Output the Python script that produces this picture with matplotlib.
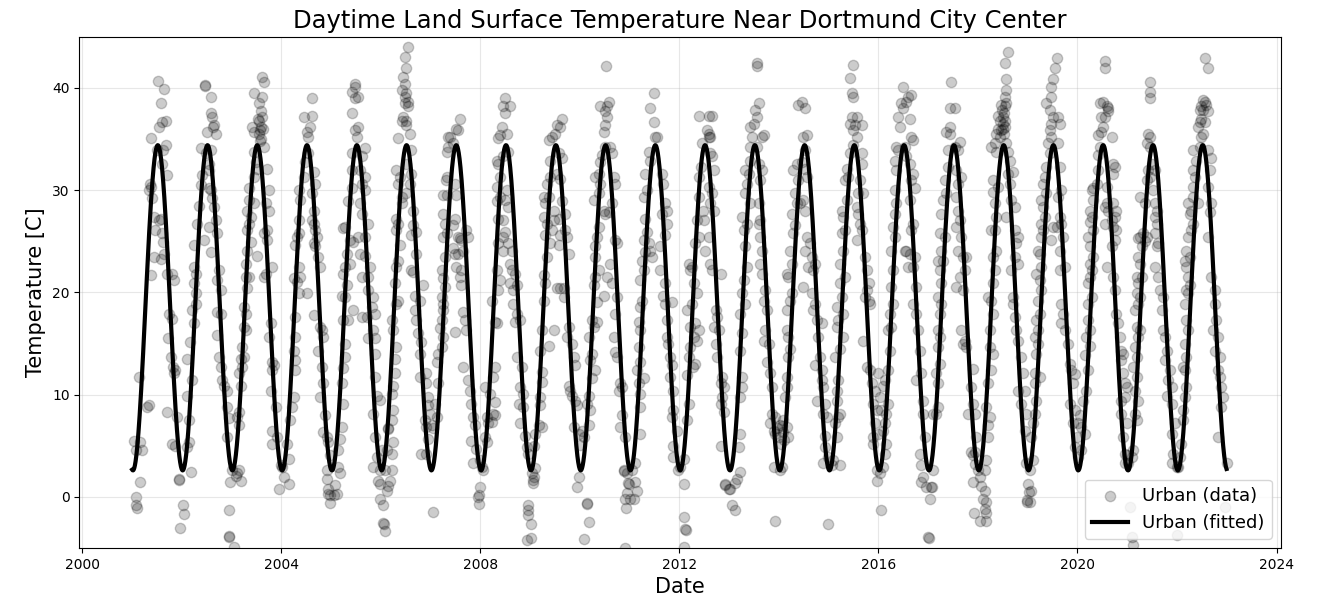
import numpy as np
import pandas as pd
import matplotlib
matplotlib.use("Agg")
import matplotlib.pyplot as plt
import matplotlib.dates as mdates

obs_2001 = [(12,5.5),(25,4.6),(73,4.6),(61,5.4),(25,0.0),(25,-0.8),(32,-1.1),(61,1.5),(49,11.7),(110,8.8),(122,9.0),
            (135,35.1),(130,30.6),(122,30.0),(140,30.3),(147,29.2),(159,27.4),(164,26.1),(159,23.5),(140,21.7),(189,40.7),
            (233,39.9),(213,38.5),(196,36.2),(220,36.7),(245,36.8),(179,33.9),(228,33.9),(245,34.4),(220,32.6),(252,31.5),
            (208,27.2),(196,27.1),(220,25.8),(228,24.9),(208,23.3),(233,23.8),(257,21.8),(294,21.8),(306,21.2),(269,17.9),
            (294,17.4),(262,15.5),(282,13.7),(318,12.4),(306,12.1),(301,12.7),(257,8.3),(294,5.2),(331,7.8),(318,5.0),
            (345,1.7),(347,1.8),(350,-3.0)]
obs_2002 = [(10,-0.8),(12,-1.7),(64,2.4),(34,13.5),(34,9.9),(51,7.5),(51,5.4),(39,4.9),(76,11.4),(61,15.2),(88,17.0),
            (100,18.9),(76,18.3),(100,19.9),(88,20.9),(100,21.8),(88,22.5),(88,24.6),(113,26.7),(125,28.5),(137,30.5),
            (150,31.5),(162,25.1),(199,26.4),(211,24.0),(137,34.1),(211,33.9),(199,32.6),(167,40.3),(169,40.2),(216,39.1),
            (216,37.5),(223,37.2),(235,36.4),(230,36.2),(186,35.7),(247,35.5),(174,33.6),(199,32.0),(211,30.0),(223,29.2),
            (199,30.2),(235,28.4),(247,27.1),(260,25.8),(272,22.2),(260,21.2),(284,20.2),(284,17.9),(260,18.1),(260,15.8),
            (272,13.7),(284,12.7),(296,11.4),(309,10.9),(333,10.4),(333,8.8),(345,7.7),(333,5.9),(355,1.5),(343,-1.3),
            (343,-3.8),(345,-3.9)]
obs_2003 = [(5,2.6),(17,-4.9),(42,2.3),(56,2.6),(66,1.6),(29,2.1),(54,7.0),(42,7.8),(54,8.3),(66,10.9),(54,12.1),
            (66,13.5),(78,12.7),(78,14.7),(91,13.7),(103,16.3),(91,16.6),(103,17.9),(91,18.6),(115,20.4),(103,21.5),
            (127,21.5),(103,22.8),(115,24.1),(140,24.9),(115,26.1),(127,26.7),(140,27.4),(115,28.0),(127,29.0),(164,28.7),
            (127,30.2),(164,31.3),(189,32.1),(164,33.7),(176,32.8),(164,35.7),(152,36.2),(201,35.5),(213,36.2),(225,37.2),
            (213,37.7),(201,38.5),(164,39.5),(225,41.1),(238,40.6),(225,39.1),(238,34.2),(262,32.1),(274,30.0),(250,28.7),
            (274,28.0),(262,26.1),(238,25.8),(189,23.6),(262,25.1),(250,21.8),(299,22.5),(238,21.5),(287,17.0),(274,15.6),
            (299,13.2),(311,12.9),(299,12.4),(287,10.4),(323,8.8),(299,6.5),(335,5.9),(299,5.2),(360,3.1),(348,0.8),
            (200,36.8),(206,35.9),(218,35.0),(196,37.0),(210,34.8),(230,36.0)]
obs_2004 = [(5,2.9),(17,2.0),(53,1.3),(53,3.7),(41,5.2),(66,7.5),(90,9.8),(78,8.8),(102,12.4),(102,13.4),(90,14.3),
            (102,15.6),(102,17.6),(126,19.9),(114,21.0),(139,21.5),(126,22.5),(90,21.4),(102,24.6),(126,25.8),(114,25.4),
            (126,27.1),(139,29.0),(126,30.0),(163,31.3),(175,32.8),(199,35.2),(187,35.7),(212,36.2),(224,37.3),(163,37.2),
            (224,39.0),(199,33.6),(236,31.8),(248,30.6),(224,29.7),(236,28.0),(236,26.7),(224,27.1),(248,26.1),(260,25.4),
            (248,24.5),(272,23.5),(285,22.5),(236,24.8),(187,19.9),(236,17.8),(285,16.6),(297,16.3),(309,15.6),(272,14.3),
            (297,12.7),(309,11.1),(285,9.8),(321,8.0),(309,6.4),(333,5.9),(345,5.4),(357,4.1),(333,2.6),(345,0.8),
            (357,0.2),(333,1.8),(340,0.3),(358,-0.6)]
obs_2005 = [(17,0.2),(29,1.2),(44,0.3),(66,2.3),(53,2.9),(53,4.6),(66,5.7),(78,6.8),(90,9.1),(78,11.1),(90,12.6),
            (102,13.7),(102,15.0),(90,17.3),(102,19.6),(78,19.7),(114,20.7),(90,21.8),(102,22.5),(114,23.8),(139,22.8),
            (139,25.1),(90,26.3),(102,26.4),(163,24.9),(126,28.9),(151,30.2),(151,32.0),(151,33.6),(187,35.2),(175,35.9),
            (199,36.2),(151,37.5),(175,39.0),(151,39.6),(175,40.1),(199,39.1),(175,40.4),(248,34.1),(224,33.3),(212,32.0),
            (248,31.3),(224,30.6),(248,30.0),(212,28.7),(272,26.7),(224,27.7),(248,25.4),(199,25.4),(212,23.8),(248,23.6),
            (285,22.5),(272,21.5),(224,21.5),(272,20.2),(309,19.6),(297,18.6),(321,17.9),(260,17.6),(309,16.3),(321,15.5),
            (272,15.5),(321,14.0),(163,18.3),(224,17.6),(126,17.3),(321,11.7),(333,9.9),(309,8.1),(357,9.5),(321,5.9),
            (333,3.9),(309,2.9),(357,2.6),(345,1.6),(357,1.3),(357,-0.2)]
obs_2006 = [(17,-2.5),(19,-2.6),(29,-3.3),(17,-0.8),(41,0.6),(66,1.6),(53,1.1),(78,2.6),(29,2.6),(41,4.6),(5,4.6),
            (78,4.2),(90,5.4),(53,6.7),(55,6.6),(78,7.5),(90,8.5),(78,10.1),(90,10.9),(102,12.1),(102,13.5),(114,14.7),
            (90,16.3),(78,17.3),(114,18.9),(126,19.2),(102,20.9),(114,22.5),(126,23.1),(139,24.6),(114,26.1),(126,26.7),
            (114,27.2),(151,28.7),(151,29.3),(126,30.6),(139,31.3),(114,32.0),(126,35.1),(151,36.8),(163,37.2),(187,36.4),
            (187,36.8),(175,38.5),(199,38.6),(199,38.2),(175,39.1),(187,39.5),(151,39.8),(163,41.1),(187,41.9),(175,43.0),
            (199,44.0),(175,40.4),(211,35.5),(224,33.9),(187,32.6),(224,31.6),(211,30.6),(187,29.7),(236,28.0),(236,26.6),
            (260,25.9),(224,25.6),(260,23.8),(224,22.2),(236,22.0),(309,20.7),(248,19.7),(284,19.2),(248,18.3),(260,17.3),
            (272,16.0),(297,15.2),(284,14.0),(284,11.7),(333,12.1),(333,11.1),(345,9.8),(345,9.0),(357,8.1),(321,7.5),
            (333,6.8),(345,5.7),(333,4.2),(297,4.2)]
obs_2007 = [(19,-1.5),(7,7.0),(19,6.7),(44,7.8),(32,9.1),(56,11.1),(44,13.2),(56,14.0),(80,14.7),(92,15.6),(68,16.5),
            (80,17.3),(92,18.3),(92,18.9),(80,19.6),(104,20.5),(92,21.4),(80,22.2),(104,23.5),(92,25.4),(117,25.8),
            (104,26.7),(92,27.7),(92,29.5),(117,29.5),(110,31.0),(117,31.3),(120,33.7),(125,34.2),(129,35.2),(141,35.2),
            (165,34.6),(189,36.0),(214,37.0),(202,35.9),(177,30.6),(189,29.5),(177,27.2),(165,26.6),(202,25.4),(214,25.3),
            (226,25.1),(238,24.1),(202,23.8),(177,23.8),(189,22.5),(226,22.2),(165,24.3),(262,26.1),(275,25.4),(214,21.5),
            (226,20.7),(238,18.1),(250,17.3),(262,16.3),(177,16.1),(238,12.7),(275,11.4),(287,10.4),(299,9.1),(311,7.8),
            (323,7.0),(299,5.5),(335,4.7),(311,3.3),(360,3.6),(360,1.0),(348,0.0),(352,0.2),(355,-0.7)]
obs_2008 = [(10,2.9),(22,2.6),(34,5.9),(47,5.4),(59,7.2),(83,7.3),(96,8.1),(108,8.0),(47,7.8),(71,10.1),(34,10.8),
            (108,9.3),(96,11.7),(108,12.7),(83,19.2),(120,17.0),(108,17.1),(132,20.2),(145,21.2),(120,22.2),(132,24.8),
            (132,27.2),(120,28.9),(145,29.3),(120,30.3),(145,31.3),(132,32.6),(120,32.9),(132,35.1),(145,35.4),(157,36.2),
            (181,37.5),(169,38.2),(218,38.2),(181,39.0),(194,35.5),(206,33.7),(169,33.3),(194,30.0),(181,29.0),(206,28.4),
            (169,27.1),(181,25.9),(169,25.4),(169,24.1),(206,24.8),(230,24.1),(218,22.8),(230,22.2),(255,21.8),(267,20.7),
            (218,20.9),(243,20.2),(243,18.9),(267,17.9),(292,17.3),(255,17.1),(267,13.7),(304,12.7),(292,10.8),(316,10.1),
            (280,9.1),(316,8.8),(292,7.2),(328,6.0),(340,4.9),(353,4.2),(350,-0.8),(352,-1.3),(353,-1.8),(345,-4.2)]
obs_2009 = [(8,-2.6),(5,-4.0),(12,2.3),(25,2.0),(37,2.8),(25,5.0),(37,6.2),(61,7.0),(86,6.8),(74,9.0),(74,9.8),
            (86,11.2),(86,12.2),(74,14.3),(135,14.8),(86,16.3),(98,19.2),(110,20.9),(98,21.7),(123,23.5),(147,24.8),
            (110,25.6),(123,26.7),(98,27.4),(110,28.7),(98,29.3),(135,29.3),(123,30.6),(147,31.3),(147,32.9),(135,34.9),
            (159,35.2),(184,35.5),(196,36.4),(233,37.0),(221,36.2),(208,33.6),(233,33.1),(196,31.6),(221,31.1),(233,28.9),
            (172,28.0),(172,27.1),(208,27.2),(257,27.7),(159,26.1),(221,25.6),(257,26.1),(208,24.6),(270,25.4),(282,23.8),
            (196,20.4),(221,20.4),(245,20.4),(245,19.6),(172,16.3),(282,16.6),(270,15.6),(306,15.0),(319,13.7),(331,12.9),
            (282,10.9),(294,10.4),(306,9.9),(331,9.4),(343,9.0),(319,6.8),(355,6.2),(355,2.0),(343,1.0),(20,1.4),(22,1.7)]
obs_2010 = [(51,-0.6),(53,-0.7),(64,-2.4),(27,-4.1),(2,5.1),(15,6.5),(27,5.9),(64,7.0),(76,8.5),(51,9.1),(64,9.9),
            (88,11.6),(113,12.4),(76,13.4),(88,14.0),(64,15.6),(100,16.6),(125,17.1),(88,17.3),(125,19.1),(100,20.7),
            (113,21.5),(137,22.2),(113,23.5),(113,24.5),(125,25.4),(137,26.4),(100,29.0),(137,29.7),(149,30.6),(113,31.3),
            (137,31.6),(149,32.8),(162,33.4),(186,34.2),(174,35.7),(186,36.4),(201,37.2),(186,37.7),(196,38.2),(211,38.6),
            (149,38.2),(193,42.1),(223,34.2),(235,33.6),(247,31.3),(260,30.6),(235,28.7),(211,27.9),(174,28.0),(186,27.7),
            (260,25.1),(272,24.8),(223,22.8),(198,21.5),(235,20.9),(272,19.6),(174,19.7),(260,17.9),(247,15.6),(260,14.2),
            (272,13.7),(296,11.1),(284,10.4),(309,10.8),(309,8.0),(296,6.8),(333,5.9),(321,2.6),(345,2.3),(357,1.3),
            (333,-0.2),(330,-5.0),(338,-1.1),(345,0.4),(350,1.4),(320,2.5)]
obs_2011 = [(5,-0.2),(17,2.6),(41,3.3),(41,1.5),(53,0.6),(29,-0.2),(78,6.2),(78,8.8),(78,10.1),(66,11.1),(53,12.4),
            (102,11.6),(78,13.2),(66,14.7),(78,16.3),(66,17.1),(78,18.6),(90,19.2),(78,21.2),(102,22.2),(90,23.1),
            (114,24.0),(102,25.1),(126,25.9),(139,24.8),(151,24.1),(163,23.5),(114,27.2),(102,29.3),(126,30.0),(114,31.6),
            (151,32.9),(139,33.7),(187,35.2),(175,36.7),(151,38.0),(175,39.5),(199,35.2),(236,31.6),(248,30.6),(260,28.7),
            (272,28.0),(236,27.7),(272,26.7),(260,25.6),(224,24.5),(224,22.2),(260,20.9),(248,19.7),(260,18.9),(272,17.3),
            (309,19.1),(272,15.6),(284,15.0),(297,13.7),(309,12.9),(297,11.7),(321,10.4),(321,8.5),(309,7.8),(345,6.5),
            (321,5.0),(357,2.6),(321,3.9)]
obs_2012 = [(32,1.3),(32,-2.0),(44,-3.1),(46,-3.2),(32,-4.9),(7,2.9),(32,3.7),(56,7.5),(69,9.1),(56,11.9),(100,12.7),
            (118,13.0),(69,13.7),(81,14.7),(105,15.6),(130,15.3),(81,16.6),(118,17.0),(142,16.3),(56,18.3),(93,18.9),
            (130,19.9),(105,20.9),(81,22.2),(93,22.5),(69,22.8),(118,24.8),(142,25.4),(130,27.1),(147,29.3),(172,28.0),
            (184,27.1),(142,31.3),(155,32.3),(167,34.6),(216,35.2),(204,35.9),(228,35.2),(142,37.3),(216,37.3),(240,37.3),
            (216,35.5),(228,33.6),(240,33.3),(253,32.0),(216,30.3),(240,29.7),(228,28.7),(253,28.0),(216,25.4),(191,24.1),
            (228,22.8),(240,22.2),(302,21.8),(265,18.3),(277,17.6),(253,16.6),(289,16.3),(265,15.0),(277,13.7),(314,11.7),
            (302,11.1),(326,10.8),(314,9.8),(326,8.3),(302,9.1),(302,5.0),(338,1.3),(362,0.8),(335,1.2)]
obs_2013 = [(7,0.8),(44,1.4),(56,1.8),(81,2.4),(20,-0.8),(44,-1.3),(69,4.9),(81,6.2),(81,9.8),(93,10.8),(93,11.7),
            (81,14.3),(93,16.0),(81,17.9),(118,18.9),(93,19.9),(105,21.2),(130,22.5),(118,24.5),(105,26.1),(130,26.7),
            (93,27.4),(154,28.7),(118,29.7),(130,30.6),(142,31.6),(118,32.0),(154,32.9),(154,34.2),(167,35.2),(154,36.2),
            (179,36.5),(203,37.2),(253,35.4),(240,35.2),(191,37.8),(216,38.5),(203,42.1),(205,42.4),(203,34.2),(216,32.6),
            (240,32.0),(228,31.0),(216,28.7),(228,27.1),(216,26.7),(228,25.4),(240,24.1),(228,22.8),(240,21.8),(265,20.2),
            (253,19.2),(277,18.3),(265,16.3),(253,15.3),(289,15.0),(277,13.2),(302,12.1),(314,10.8),(314,8.1),(302,7.2),
            (338,7.8),(326,6.5),(350,6.7),(338,6.2),(362,5.9),(326,2.9),(338,-2.3)]
obs_2014 = [(7,2.6),(20,2.9),(56,10.8),(44,9.8),(56,6.8),(69,5.9),(32,7.5),(7,7.0),(32,6.4),(20,6.9),(40,5.6),(14,5.2),
            (56,11.7),(69,13.7),(81,14.5),(69,15.6),(56,16.3),(56,18.3),(81,19.2),(93,19.9),(69,21.5),(56,21.8),(93,22.8),
            (81,24.1),(105,25.8),(118,26.6),(93,27.7),(130,28.7),(118,29.7),(105,32.0),(142,31.0),(130,32.6),(142,38.3),
            (167,38.6),(191,38.0),(203,35.4),(179,35.2),(191,33.9),(167,32.8),(191,32.1),(203,31.3),(179,29.0),(154,28.7),
            (191,28.0),(203,25.4),(228,24.8),(191,24.1),(179,20.5),(216,22.5),(240,23.5),(253,22.2),(265,22.8),(240,19.9),
            (265,18.9),(253,18.3),(277,17.3),(314,17.0),(289,15.6),(302,13.7),(265,12.9),(314,12.4),(314,11.4),(326,10.8),
            (277,9.4),(338,9.1),(326,8.1),(350,7.8),(338,6.0),(338,4.9),(362,3.9),(362,-2.6),(326,3.3)]
obs_2015 = [(22,3.1),(34,3.6),(83,3.1),(59,5.9),(71,7.8),(47,7.2),(83,8.1),(59,9.4),(59,10.4),(71,11.4),(47,13.7),
            (83,14.5),(108,15.6),(59,16.6),(71,17.3),(108,17.9),(59,18.6),(96,19.6),(83,20.9),(120,21.5),(83,22.8),
            (108,24.1),(96,25.8),(120,26.1),(108,27.4),(96,28.0),(132,29.0),(120,31.0),(145,31.3),(132,32.1),(157,33.6),
            (181,34.4),(206,35.2),(181,35.9),(194,36.4),(157,36.5),(206,37.2),(169,37.2),(243,36.4),(181,39.1),(169,39.5),
            (157,41.0),(181,42.2),(243,33.6),(243,32.6),(230,31.0),(218,29.7),(255,29.7),(206,28.4),(218,27.7),(230,26.7),
            (243,26.1),(206,25.1),(267,23.5),(280,22.2),(292,20.9),(280,20.2),(292,19.2),(304,18.9),(267,19.6),(255,15.3),
            (280,12.7),(304,12.4),(316,11.1),(341,10.4),(328,9.1),(353,8.5),(341,7.2),(365,6.2),(328,5.9),(328,5.2),
            (353,2.6),(353,1.6)]
obs_2016 = [(20,-1.3),(9,2.3),(33,2.9),(45,4.2),(58,5.2),(33,6.5),(45,7.2),(58,8.1),(20,8.5),(9,9.8),(0,12.1),(33,10.9),
            (70,9.1),(45,11.4),(70,12.4),(82,14.3),(70,16.3),(94,16.6),(82,17.9),(107,18.9),(94,20.5),(107,22.2),(94,24.1),
            (119,25.4),(107,26.4),(119,27.7),(131,28.7),(119,30.0),(131,32.0),(119,32.9),(143,33.9),(131,34.2),(192,34.2),
            (205,33.3),(156,36.2),(143,37.2),(180,38.0),(168,38.5),(205,38.6),(217,39.1),(180,40.1),(241,39.3),(229,37.0),
            (241,35.2),(254,34.9),(229,32.6),(254,31.6),(241,31.0),(266,30.2),(229,29.0),(254,26.7),(241,26.1),(205,24.1),
            (229,23.8),(266,23.5),(217,22.5),(254,22.5),(192,24.1),(278,20.5),(254,18.9),(278,17.9),(290,16.3),(303,14.3),
            (315,12.1),(278,11.4),(327,9.4),(327,8.1),(339,5.9),(303,4.2),(315,3.1),(327,2.0),(352,1.0),(310,1.5)]
obs_2017 = [(0,-3.9),(2,-4.0),(10,-0.2),(22,1.0),(24,1.0),(34,2.6),(34,8.1),(59,8.1),(71,8.8),(71,11.1),(59,12.1),
            (83,13.0),(71,14.7),(83,15.6),(71,16.3),(83,17.9),(96,18.9),(71,19.6),(96,20.9),(83,22.2),(108,23.1),(71,23.1),
            (96,24.1),(83,25.8),(120,25.4),(96,27.7),(108,29.0),(132,29.7),(120,31.0),(145,32.3),(145,33.9),(157,35.5),
            (132,35.7),(157,36.2),(230,34.7),(218,33.9),(157,38.0),(194,38.0),(169,40.6),(194,34.2),(206,32.0),(218,30.6),
            (243,31.3),(206,29.3),(218,28.0),(230,27.1),(206,26.4),(243,25.4),(218,24.1),(255,23.5),(279,23.5),(267,22.2),
            (206,20.5),(230,21.5),(255,20.2),(243,16.3),(267,15.3),(255,15.0),(279,14.7),(328,12.5),(316,10.8),(328,9.1),
            (341,8.1),(291,8.1),(353,5.9),(316,4.4),(328,4.1),(341,4.4),(330,1.5),(345,3.2),(335,-1.6)]
obs_2018 = [(0,2.6),(12,2.0),(25,1.1),(49,0.6),(37,-0.2),(61,-0.5),(49,-1.2),(61,-1.6),(12,-2.3),(62,-2.3),(49,2.6),
            (61,3.6),(74,5.9),(74,7.0),(61,8.8),(86,7.8),(74,11.1),(98,12.4),(110,14.0),(86,14.7),(86,16.3),(110,17.9),
            (98,19.2),(74,19.6),(110,20.9),(123,22.2),(110,23.5),(135,24.1),(123,26.1),(98,26.1),(135,27.4),(123,28.7),
            (110,29.8),(147,30.3),(110,31.0),(98,34.2),(123,34.6),(135,33.7),(159,35.2),(135,35.5),(147,36.0),(172,35.9),
            (184,36.0),(159,36.8),(184,37.2),(196,38.2),(172,38.3),(208,38.5),(147,37.3),(196,39.1),(208,39.8),(208,40.9),
            (196,42.4),(221,43.5),(208,34.6),(221,33.7),(233,32.9),(221,31.6),(257,31.8),(233,30.6),(245,29.0),(270,28.4),
            (208,27.4),(270,26.1),(294,25.4),(282,24.8),(270,23.5),(245,22.2),(294,22.8),(257,19.6),(257,18.9),(270,17.6),
            (282,16.3),(294,15.3),(319,13.7),(331,12.1),(294,10.4),(343,10.4),(319,9.1),(355,8.1),(343,6.5),(355,3.3),
            (360,-0.3),(362,-0.5),(180,36.5),(190,37.5),(200,36.8),(175,37.8),(188,35.5),(195,36.2)]
obs_2019 = [(15,2.6),(2,1.3),(27,0.6),(15,-0.5),(10,0.5),(39,3.6),(27,5.9),(39,7.2),(51,8.1),(64,9.4),(51,11.1),
            (51,12.1),(88,11.7),(64,14.0),(76,15.0),(51,15.6),(76,16.3),(64,17.3),(88,17.9),(76,19.2),(100,20.2),(88,21.2),
            (64,21.8),(100,22.5),(88,23.8),(76,24.1),(100,25.4),(113,26.1),(100,26.7),(125,27.4),(113,28.4),(100,29.0),
            (137,29.7),(113,30.6),(125,31.3),(137,32.3),(162,33.6),(149,34.6),(174,35.2),(162,35.9),(174,36.5),(186,37.2),
            (162,37.8),(137,38.5),(174,39.1),(174,40.1),(186,40.9),(198,41.9),(211,42.9),(223,37.2),(235,36.5),(223,34.6),
            (235,32.3),(247,30.0),(223,29.3),(235,27.4),(247,26.7),(211,26.4),(260,25.4),(186,26.4),(174,25.1),(235,24.1),
            (272,22.5),(235,22.2),(247,18.9),(260,17.9),(247,17.0),(272,16.3),(296,15.0),(309,13.0),(321,12.4),(333,11.1),
            (309,9.1),(345,8.5),(333,7.2),(358,5.9),(345,4.9),(350,12.0)]
obs_2020 = [(5,7.2),(17,8.0),(29,6.8),(5,3.9),(29,4.6),(54,6.2),(42,9.4),(66,10.4),(78,12.4),(54,13.9),(91,14.8),
            (66,15.6),(91,16.3),(78,17.3),(78,18.9),(103,19.6),(78,20.9),(91,21.5),(103,22.2),(91,22.8),(115,23.5),
            (91,24.5),(78,25.4),(115,26.1),(91,26.9),(103,27.4),(91,28.0),(115,29.0),(103,30.0),(115,30.2),(140,30.6),
            (152,32.0),(152,33.4),(164,34.2),(152,35.4),(176,35.7),(189,36.2),(201,37.2),(176,37.2),(164,38.5),(189,38.6),
            (213,38.2),(225,37.7),(200,41.9),(205,42.6),(225,38.0),(250,35.2),(262,32.6),(274,32.3),(262,31.6),(213,30.3),
            (213,28.7),(201,28.4),(225,28.0),(262,28.7),(274,27.4),(286,28.0),(250,27.1),(262,26.4),(201,26.7),(286,26.1),
            (274,25.1),(250,24.5),(213,22.5),(262,21.5),(274,20.2),(286,17.9),(299,17.0),(311,15.6),(323,14.3),(335,14.0),
            (323,13.4),(335,12.1),(347,11.1),(360,10.8),(347,9.8),(323,9.4),(360,7.2),(323,8.1),(335,5.9),(347,4.2),
            (347,3.3),(360,4.1)]
obs_2021 = [(20,-1.0),(32,-3.9),(44,-4.7),(7,3.3),(32,3.9),(44,4.6),(56,8.1),(69,7.5),(81,9.4),(56,10.4),(69,11.7),
            (44,12.7),(69,13.7),(56,14.7),(81,15.6),(93,16.3),(69,16.6),(56,18.3),(81,18.9),(93,19.6),(69,19.9),(81,20.9),
            (69,21.5),(105,21.5),(93,22.8),(81,23.5),(105,24.5),(93,25.4),(81,25.3),(118,25.8),(130,25.0),(142,25.4),
            (93,29.3),(130,28.7),(142,31.0),(167,31.3),(154,32.0),(179,32.6),(167,34.2),(142,34.6),(154,35.5),(167,35.2),
            (167,39.0),(169,39.6),(167,40.6),(203,32.0),(191,30.0),(203,28.7),(216,28.0),(203,27.4),(216,26.7),(203,25.8),
            (228,24.8),(216,24.5),(203,22.5),(228,21.5),(240,20.2),(265,19.6),(253,18.3),(265,16.3),(277,15.6),(289,14.3),
            (277,13.4),(314,12.4),(302,11.4),(326,10.8),(289,9.9),(326,9.1),(350,7.2),(326,6.2),(338,4.2),(362,2.9),
            (326,3.3),(362,-3.7)]
obs_2022 = [(7,2.9),(20,3.9),(32,5.2),(44,7.5),(44,8.5),(56,9.8),(69,10.8),(56,12.4),(44,12.7),(69,13.7),(56,15.0),
            (81,16.3),(69,17.3),(56,18.9),(81,19.9),(69,20.2),(93,20.7),(81,21.5),(69,22.5),(56,23.1),(93,23.5),(69,24.1),
            (81,25.4),(105,26.1),(118,26.7),(93,27.7),(105,28.0),(81,28.7),(118,29.3),(154,28.7),(118,30.3),(130,31.3),
            (118,32.0),(142,32.9),(118,33.9),(167,34.2),(179,35.2),(191,35.5),(154,36.2),(167,36.7),(179,37.0),(203,36.7),
            (167,37.8),(191,37.8),(228,37.7),(216,38.3),(203,38.6),(191,38.8),(179,38.2),(228,41.9),(203,42.9),(228,33.9),
            (252,33.1),(240,32.0),(228,30.3),(252,28.7),(240,27.9),(228,25.4),(252,21.5),(277,20.2),(277,18.9),(289,17.3),
            (265,16.3),(301,15.6),(277,14.3),(314,13.7),(301,12.4),(314,11.7),(326,10.8),(338,9.8),(326,8.8),(301,5.9),
            (363,3.3),(355,-1.0)]

observations = {2001: obs_2001, 2002: obs_2002, 2003: obs_2003, 2004: obs_2004, 2005: obs_2005, 2006: obs_2006,
                2007: obs_2007, 2008: obs_2008, 2009: obs_2009, 2010: obs_2010, 2011: obs_2011, 2012: obs_2012,
                2013: obs_2013, 2014: obs_2014, 2015: obs_2015, 2016: obs_2016, 2017: obs_2017, 2018: obs_2018,
                2019: obs_2019, 2020: obs_2020, 2021: obs_2021, 2022: obs_2022}

# fitted annual cycle
fit_mean = 18.5
fit_amp = 15.9
fit_min_day = 5.5

dates = []
temps = []
for year, obs in observations.items():
    for day, t in obs:
        dates.append(pd.Timestamp(year=year, month=1, day=1) + pd.Timedelta(days=day))
        temps.append(t)
df = pd.DataFrame({"date": dates, "lst": temps}).sort_values("date")

fit_dates = pd.date_range("2001-01-01", "2022-12-30", freq="D")
doy = fit_dates.dayofyear.values - 1
fit_vals = fit_mean - fit_amp * np.cos(2 * np.pi * (doy - fit_min_day) / 365.25)

fig = plt.figure(figsize=(13.22, 6.03), dpi=100)
ax = fig.add_axes([0.060, 0.091, 0.909, 0.848])

ax.scatter(df["date"], df["lst"], s=55, c="k", alpha=0.2, label="Urban (data)")
ax.plot(fit_dates, fit_vals, color="k", lw=3, label="Urban (fitted)")

ax.set_title("Daytime Land Surface Temperature Near Dortmund City Center", fontsize=17.5)
ax.set_xlabel("Date", fontsize=15)
ax.set_ylabel("Temperature [C]", fontsize=15)
ax.set_ylim(-5, 45)
ax.set_xlim(pd.Timestamp("1999-12-10"), pd.Timestamp("2024-02-03"))
ax.xaxis.set_major_locator(mdates.YearLocator(4))
ax.xaxis.set_major_formatter(mdates.DateFormatter("%Y"))
ax.grid(alpha=0.3)
ax.legend(loc="lower right", fontsize=13)

fig.savefig("out.png", dpi=100)
